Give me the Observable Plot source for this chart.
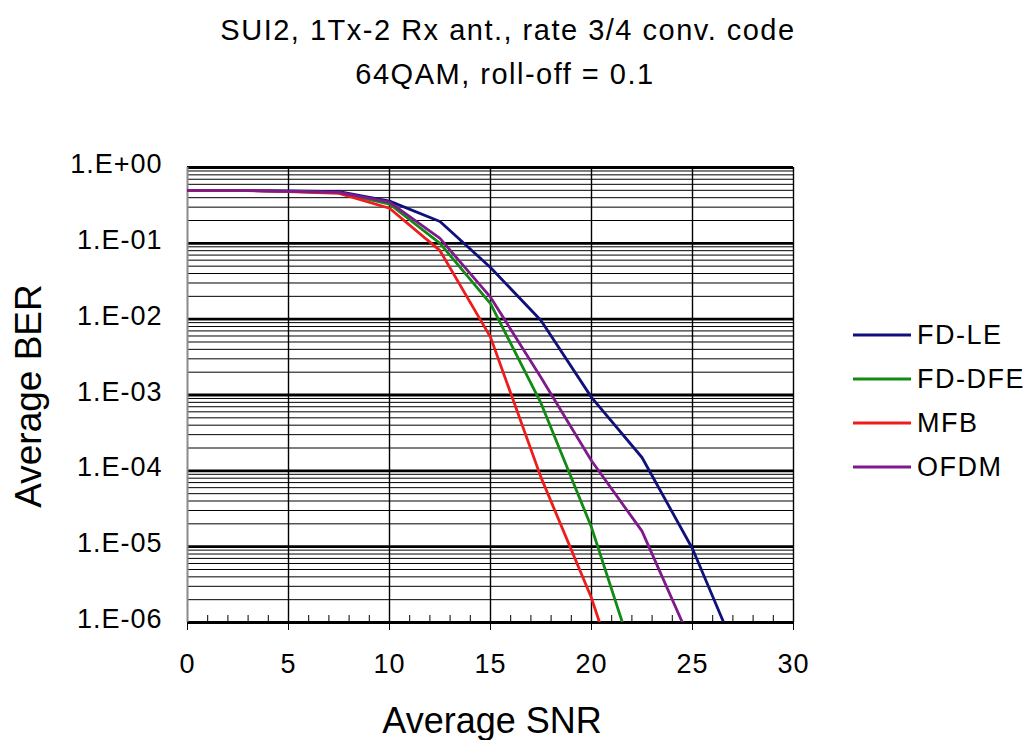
<!DOCTYPE html>
<html><head><meta charset="utf-8">
<script src="https://cdn.jsdelivr.net/npm/d3@7"></script>
<script src="https://cdn.jsdelivr.net/npm/@observablehq/plot@0.6"></script>
<style>
body{margin:0;background:#fff;font-family:"Liberation Sans",Arial,sans-serif;color:#000}
#wrap{position:relative;width:1032px;height:740px;overflow:hidden}
#wrap svg{position:absolute;left:0;top:0}
.title{position:absolute;white-space:nowrap;font-size:29px;line-height:1;letter-spacing:1.5px;transform:translate(-50%,-50%)}
.ylab{position:absolute;font-size:37px;line-height:1;white-space:nowrap;left:28px;top:396px;transform:translate(-50%,-50%) rotate(-90deg)}
.xlab{position:absolute;font-size:36px;line-height:1;white-space:nowrap;left:492px;top:721px;transform:translate(-50%,-50%)}
.leg{position:absolute;left:853px;font-size:27px;line-height:1;letter-spacing:1.5px;white-space:nowrap;transform:translateY(-50%)}
.leg span.sw{display:inline-block;width:58px;height:3px;vertical-align:middle;margin-right:6px;position:relative;top:-1px}
</style></head>
<body><div id="wrap"></div>
<script>
const snr = [0, 2.5, 5, 7.5, 10, 12.5, 15, 17.5, 20, 22.5, 25, 27.5];
const fdLE  = [0.5, 0.5, 0.49, 0.48, 0.36, 0.194, 0.048, 0.0096, 0.00093, 0.00015, 0.0000094, 0.00000025];
const fdDFE = [0.5, 0.5, 0.485, 0.465, 0.33, 0.10, 0.016, 0.00078, 0.000018, 0.00000016, null, null];
const mfb   = [0.5, 0.5, 0.48, 0.455, 0.29, 0.080, 0.0058, 0.000082, 0.0000021, 0.00000002, null, null];
const ofdm  = [0.5, 0.5, 0.485, 0.47, 0.35, 0.116, 0.0195, 0.0017, 0.000136, 0.000016, 0.0000005, null];
const seriesNames = ["FD-LE", "FD-DFE", "MFB", "OFDM"];
const seriesColors = ["#10107a", "#138a13", "#ee1c1c", "#7f1a8c"];
const seriesValues = [fdLE, fdDFE, mfb, ofdm];
const xTicks = [0, 5, 10, 15, 20, 25, 30];
const yTicks = [1, 1e-1, 1e-2, 1e-3, 1e-4, 1e-5, 1e-6];
const titleLines = ["SUI2, 1Tx-2 Rx ant., rate 3/4 conv. code", "64QAM, roll-off = 0.1"];
const xLabel = "Average SNR";
const yLabel = "Average BER";

const rows = [];
seriesValues.forEach((vals, si) => {
  vals.forEach((v, i) => { if (v != null) rows.push({series: seriesNames[si], snr: snr[i], ber: v}); });
});
const yMinor = [];
for (let e = -6; e < 0; e++) for (let m = 2; m <= 9; m++) yMinor.push(m * 10 ** e);
const xMinor = d3.range(0, 31, 1).filter(d => d % 5 !== 0);
const fmtE = d => { const e = Math.round(Math.log10(d)); return "1.E" + (e >= 0 ? "+" : "-") + String(Math.abs(e)).padStart(2, "0"); };

const chart = Plot.plot({
  width: 1032, height: 740,
  marginLeft: 187, marginRight: 239, marginTop: 167, marginBottom: 118,
  style: {fontFamily: "'Liberation Sans', Arial, sans-serif", fontSize: "27px", color: "#000", background: "#fff", letterSpacing: "1px"},
  x: {domain: [0, 30]},
  y: {type: "log", domain: [1e-6, 1]},
  color: {domain: seriesNames, range: seriesColors},
  marks: [
    Plot.ruleY(yMinor, {stroke: "#000", strokeWidth: 1}),
    Plot.ruleY(yTicks, {stroke: "#000", strokeWidth: 2.8}),
    Plot.ruleX(xTicks.filter(d => d > 0), {stroke: "#000", strokeWidth: 1.4}),
    Plot.ruleX([0], {stroke: "#8a8a8a", strokeWidth: 2}),
    Plot.ruleY([1e-6], {stroke: "#000", strokeWidth: 1.6}),
    Plot.axisX({ticks: xMinor, tickSize: 7, dy: -7, tickFormat: () => "", label: null, stroke: "#000"}),
    Plot.axisX({ticks: xTicks, tickSize: 8, tickPadding: 23, fontSize: 27, label: null, stroke: "#000", tickFormat: d => String(d)}),
    Plot.axisY({ticks: yTicks, tickSize: 0, tickPadding: 25, fontSize: 27, label: null, dy: -3, tickFormat: fmtE}),
    Plot.line(rows, {x: "snr", y: "ber", z: "series", stroke: "series", strokeWidth: 2.8, clip: true})
  ]
});
const wrap = document.getElementById("wrap");
wrap.appendChild(chart);
const titlePos = [[508, 30], [505, 74]];
titleLines.forEach((line, i) => {
  const t = document.createElement("div"); t.className = "title"; t.textContent = line;
  t.style.left = titlePos[i][0] + "px"; t.style.top = titlePos[i][1] + "px"; wrap.appendChild(t);
});
const yl = document.createElement("div"); yl.className = "ylab"; yl.textContent = yLabel; wrap.appendChild(yl);
const xl = document.createElement("div"); xl.className = "xlab"; xl.textContent = xLabel; wrap.appendChild(xl);
const legY = [335, 379, 423, 467];
seriesNames.forEach((n, i) => {
  const d = document.createElement("div"); d.className = "leg"; d.style.top = legY[i] + "px";
  d.innerHTML = `<span class="sw" style="background:${seriesColors[i]}"></span>${n}`;
  wrap.appendChild(d);
});
</script>
</body></html>
